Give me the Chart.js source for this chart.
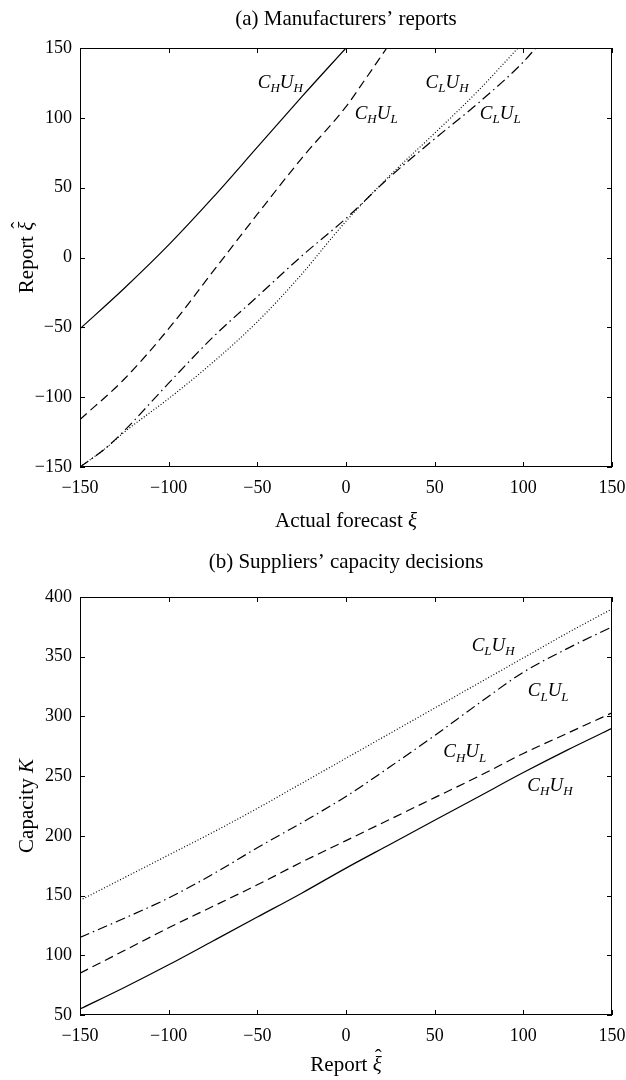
<!DOCTYPE html>
<html>
<head>
<meta charset="utf-8">
<script src="https://cdn.jsdelivr.net/npm/chart.js@4.4.1/dist/chart.umd.min.js"></script>
<style>
    body { margin: 0; background: #fff; overflow: hidden; }
    .box { width: 626px; height: 540px; }
    canvas { display: block; }
</style>
</head>
<body>
<div class="box"><canvas id="reportsChart" width="626" height="540"></canvas></div>
<div class="box"><canvas id="capacityChart" width="626" height="540"></canvas></div>
<script>
// (a) Manufacturers' reports: actual forecast -> report
var forecastTicks = [-150, -100, -50, 0, 50, 100, 150];
var reportTicks = [-150, -100, -50, 0, 50, 100, 150];

var chuhForecast = [-150, -125, -100, -75, -50, -25, 0];
var chuhReport = [-51, -22, 9, 43, 79, 115, 150];

var chulForecast = [-150, -125, -100, -75, -50, -25, 0, 10, 23];
var chulReport = [-116, -87, -51, -10, 31, 71, 108, 126, 150];

var cluhForecast = [-150, -135, -125, -100, -75, -50, -25, -10, 0, 25, 50, 75, 97];
var cluhReport = [-150, -136, -125, -101, -75, -46, -12, 11, 26, 59, 89, 120, 150];

var clulForecast = [-150, -135, -125, -100, -75, -50, -25, 0, 25, 50, 75, 100, 107];
var clulReport = [-150, -136, -124, -90, -57, -28, 1, 28, 58, 85, 111, 140, 150];

// (b) Suppliers' capacity decisions: report -> capacity
var capReportTicks = [-150, -100, -50, 0, 50, 100, 150];
var capacityTicks = [50, 100, 150, 200, 250, 300, 350, 400];

var capReport = [-150, -125, -100, -75, -50, -25, 0, 25, 50, 75, 100, 125, 150];
var capChuh = [55, 73, 92, 112, 132, 152, 173, 193, 213, 233, 253, 272, 290];
var capChul = [85, 104, 123, 141, 159, 178, 196, 214, 232, 250, 269, 286, 303];
var capClul = [115, 131, 148, 168, 190, 211, 233, 258, 284, 311, 337, 357, 375];
var capCluh = [146, 165, 184, 203, 223, 244, 265, 286, 307, 328, 349, 370, 390];

// curve tags (data coordinates), C_{c}U_{u}
var tagsA = [
    { x: -37, y: 125, c: 'H', u: 'H' },
    { x: 17, y: 103, c: 'H', u: 'L' },
    { x: 57, y: 125, c: 'L', u: 'H' },
    { x: 87, y: 103, c: 'L', u: 'L' }
];
var tagsB = [
    { x: 83, y: 359, c: 'L', u: 'H' },
    { x: 114, y: 321, c: 'L', u: 'L' },
    { x: 67, y: 270, c: 'H', u: 'L' },
    { x: 115, y: 242, c: 'H', u: 'H' }
];

var SERIF = '"Liberation Serif", "Times New Roman", serif';
var SOLID = [];
var DASHED = [9, 5];
var DOTTED = [1, 2];
var DASHDOT = [10, 4, 1.5, 4];

function series(xs, ys, dash) {
    return {
        data: xs.map((x, i) => ({ x: x, y: ys[i] })),
        borderColor: '#000',
        borderWidth: 1.2,
        borderDash: dash,
        pointRadius: 0,
        fill: false,
        cubicInterpolationMode: 'monotone',
    };
}

function minus(v) {
    return String(v).replace('-', '\u2212');
}

// draw a run of text pieces, some italic, one may carry a hat
function drawRich(ctx, parts, cx, cy, size) {
    var widths = parts.map(p => {
        ctx.font = (p.it ? 'italic ' : '') + size + 'px ' + SERIF;
        return ctx.measureText(p.t).width;
    });
    var total = widths.reduce((a, b) => a + b, 0);
    var x = cx - total / 2;
    var base = cy + size * 0.33;
    ctx.textAlign = 'left';
    ctx.textBaseline = 'alphabetic';
    parts.forEach((p, i) => {
        ctx.font = (p.it ? 'italic ' : '') + size + 'px ' + SERIF;
        ctx.fillText(p.t, x, base);
        if (p.hat) {
            ctx.font = size + 'px ' + SERIF;
            ctx.textAlign = 'center';
            ctx.fillText('\u02C6', x + widths[i] / 2 + 1, base - size * 0.32);
            ctx.textAlign = 'left';
        }
        x += widths[i];
    });
}

var decorPlugin = {
    id: 'decor',
    afterDraw(chart, args, opts) {
        var ctx = chart.ctx;
        var a = chart.chartArea;
        var xs = chart.scales.x;
        var ys = chart.scales.y;
        ctx.save();
        ctx.fillStyle = '#000';
        ctx.strokeStyle = '#000';
        ctx.lineWidth = 1;

        // frame
        ctx.strokeRect(a.left + 0.5, a.top + 0.5, a.right - a.left - 1, a.bottom - a.top - 1);

        // inward ticks on all four sides
        ctx.beginPath();
        xs.ticks.forEach(t => {
            var px = Math.round(xs.getPixelForValue(t.value)) + 0.5;
            ctx.moveTo(px, a.bottom);
            ctx.lineTo(px, a.bottom - 5);
            ctx.moveTo(px, a.top);
            ctx.lineTo(px, a.top + 5);
        });
        ys.ticks.forEach(t => {
            var py = Math.round(ys.getPixelForValue(t.value)) + 0.5;
            ctx.moveTo(a.left, py);
            ctx.lineTo(a.left + 5, py);
            ctx.moveTo(a.right, py);
            ctx.lineTo(a.right - 5, py);
        });
        ctx.stroke();

        var midX = (a.left + a.right) / 2;
        var midY = (a.top + a.bottom) / 2;

        // chart title
        ctx.font = '21px ' + SERIF;
        ctx.textAlign = 'center';
        ctx.textBaseline = 'middle';
        ctx.fillText(opts.title, midX, opts.titleY);

        // axis titles
        drawRich(ctx, opts.xTitle, midX, opts.xTitleY, 21);
        ctx.save();
        ctx.translate(26, midY);
        ctx.rotate(-Math.PI / 2);
        drawRich(ctx, opts.yTitle, 0, 0, 21);
        ctx.restore();

        // curve tags
        opts.tags.forEach(tag => {
            var px = xs.getPixelForValue(tag.x);
            var py = ys.getPixelForValue(tag.y);
            var pieces = [
                { t: 'C', size: 19, dy: 0 },
                { t: tag.c, size: 13, dy: 6 },
                { t: 'U', size: 19, dy: 0 },
                { t: tag.u, size: 13, dy: 6 }
            ];
            var w = pieces.map(p => {
                ctx.font = 'italic ' + p.size + 'px ' + SERIF;
                return ctx.measureText(p.t).width;
            });
            var x = px - w.reduce((s, v) => s + v, 0) / 2;
            ctx.textAlign = 'left';
            ctx.textBaseline = 'middle';
            pieces.forEach((p, i) => {
                ctx.font = 'italic ' + p.size + 'px ' + SERIF;
                ctx.fillText(p.t, x, py + p.dy);
                x += w[i];
            });
        });
        ctx.restore();
    }
};

function axis(min, max, ticks, pos, size) {
    return {
        type: 'linear',
        position: pos,
        min: min,
        max: max,
        grid: { display: false, drawTicks: false },
        border: { display: false },
        afterBuildTicks: s => { s.ticks = ticks.map(v => ({ value: v })); },
        afterFit: s => {
            // keep the plot frame where the reference has it
            s.paddingLeft = 0;
            s.paddingRight = 0;
            s.paddingTop = 0;
            s.paddingBottom = 0;
            if (pos === 'left') { s.width = size; } else { s.height = size; }
        },
        ticks: {
            autoSkip: false,
            maxRotation: 0,
            padding: pos === 'left' ? 8 : 10,
            color: '#000',
            font: { family: SERIF, size: 18 },
            callback: v => minus(v),
        },
    };
}

function makeChart(id, datasets, scales, padTop, decor) {
    var ctx = document.getElementById(id).getContext('2d');
    return new Chart(ctx, {
        type: 'line',
        data: { datasets: datasets },
        options: {
            responsive: false,
            animation: false,
            devicePixelRatio: 1,
            layout: { autoPadding: false, padding: { top: padTop, right: 14, left: 0, bottom: 0 } },
            scales: scales,
            plugins: {
                legend: { display: false },
                tooltip: { enabled: false },
                decor: decor,
            },
        },
        plugins: [decorPlugin],
    });
}

makeChart('reportsChart', [
    series(chuhForecast, chuhReport, SOLID),
    series(chulForecast, chulReport, DASHED),
    series(cluhForecast, cluhReport, DOTTED),
    series(clulForecast, clulReport, DASHDOT),
], {
    x: axis(-150, 150, forecastTicks, 'bottom', 73),
    y: axis(-150, 150, reportTicks, 'left', 80),
}, 48, {
    title: '(a) Manufacturers\u2019 reports',
    titleY: 19,
    xTitle: [{ t: 'Actual forecast ' }, { t: '\u03BE', it: true }],
    xTitleY: 520,
    yTitle: [{ t: 'Report ' }, { t: '\u03BE', it: true, hat: true }],
    tags: tagsA,
});

makeChart('capacityChart', [
    series(capReport, capChuh, SOLID),
    series(capReport, capChul, DASHED),
    series(capReport, capCluh, DOTTED),
    series(capReport, capClul, DASHDOT),
], {
    x: axis(-150, 150, capReportTicks, 'bottom', 65),
    y: axis(50, 400, capacityTicks, 'left', 80),
}, 57, {
    title: '(b) Suppliers\u2019 capacity decisions',
    titleY: 22,
    xTitle: [{ t: 'Report ' }, { t: '\u03BE', it: true, hat: true }],
    xTitleY: 524,
    yTitle: [{ t: 'Capacity ' }, { t: 'K', it: true }],
    tags: tagsB,
});
</script>
</body>
</html>
